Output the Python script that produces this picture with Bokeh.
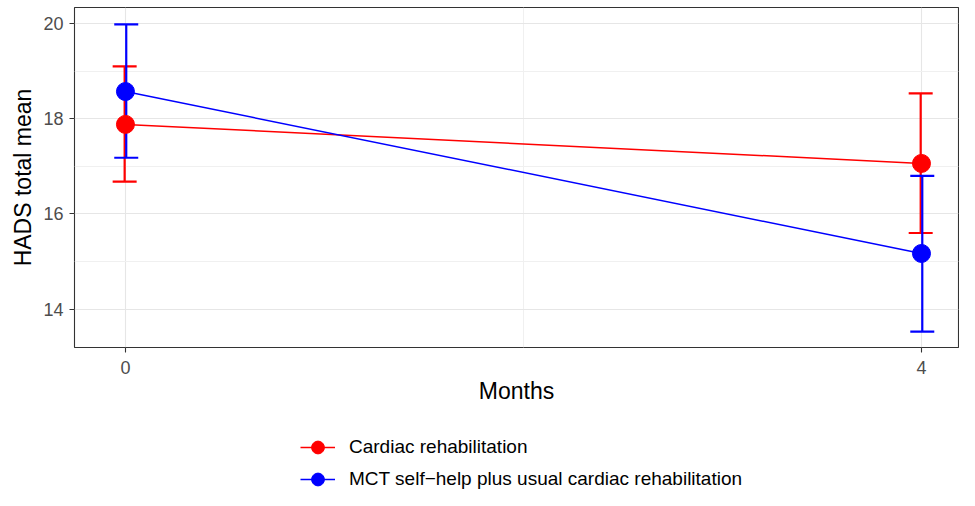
from bokeh.plotting import figure
from bokeh.layouts import column
from bokeh.models import (Range1d, FixedTicker, Whisker, TeeHead, ColumnDataSource,
                          Legend, LegendItem)
from bokeh.transform import dodge
from bokeh.embed import file_html
from bokeh.resources import INLINE

# ---- data ----
months = [0, 4]
month_labels = ["0", "4"]
cr_mean = [17.88, 17.06]
cr_lower = [16.68, 15.60]
cr_upper = [19.10, 18.53]
mct_mean = [18.57, 15.17]
mct_lower = [17.18, 13.53]
mct_upper = [19.98, 16.80]
series_labels = ["Cardiac rehabilitation",
                 "MCT self\u2212help plus usual cardiac rehabilitation"]
series_colors = ["#ff0000", "#0000ff"]
y_ticks = [14, 16, 18, 20]
y_minor = [15, 17, 19]
x_minor = [2]

FONT = "Liberation Sans"
W = 959
H1 = 406
H2 = 84

p = figure(width=W, height=H1, output_backend="svg", toolbar_location=None,
           x_range=Range1d(-0.256, 4.186), y_range=Range1d(13.196, 20.334),
           min_border_left=74, min_border_right=1, min_border_top=7,
           min_border_bottom=H1 - 349)

p.background_fill_color = "white"
p.border_fill_color = "white"
p.outline_line_color = "#333333"
p.outline_line_width = 1.1

# axes
p.xaxis.ticker = FixedTicker(ticks=months, minor_ticks=x_minor)
p.yaxis.ticker = FixedTicker(ticks=y_ticks, minor_ticks=y_minor)
p.xgrid.ticker = FixedTicker(ticks=months, minor_ticks=x_minor)
p.ygrid.ticker = FixedTicker(ticks=y_ticks, minor_ticks=y_minor)
p.xaxis.major_label_overrides = {m: l for m, l in zip(months, month_labels)}

for ax in (p.xaxis, p.yaxis):
    ax.axis_line_color = None
    ax.major_tick_line_color = "#333333"
    ax.major_tick_line_width = 1.1
    ax.major_tick_in = 0
    ax.major_tick_out = 5
    ax.minor_tick_line_color = None
    ax.major_label_text_font = FONT
    ax.major_label_text_font_size = "18px"
    ax.major_label_text_color = "#4d4d4d"
    ax.axis_label_text_font = FONT
    ax.axis_label_text_font_size = "23px"
    ax.axis_label_text_font_style = "normal"
    ax.axis_label_text_color = "black"

p.xaxis.axis_label = "Months"
p.yaxis.axis_label = "HADS total mean"
p.xaxis.major_label_standoff = 8
p.xaxis.axis_label_standoff = 1
p.yaxis.major_label_standoff = 6
p.yaxis.axis_label_standoff = 4

for g in (p.xgrid, p.ygrid):
    g.grid_line_color = "#e6e6e6"
    g.grid_line_width = 1.1
    g.minor_grid_line_color = "#f0f0f0"
    g.minor_grid_line_width = 1

# series
series = [
    (cr_mean, cr_lower, cr_upper, series_colors[0], -0.004),
    (mct_mean, mct_lower, mct_upper, series_colors[1], 0.004),
]
sources = []
for mean, lo, hi, col, off in series:
    sources.append(ColumnDataSource(dict(x=months, y=mean, lo=lo, hi=hi)))

for (mean, lo, hi, col, off), src in zip(series, sources):
    p.line("x", "y", source=src, line_color=col, line_width=1.5)

for (mean, lo, hi, col, off), src in zip(series, sources):
    w = Whisker(source=src, base=dodge("x", off), upper="hi", lower="lo",
                line_color=col, line_width=2.2,
                upper_head=TeeHead(size=24, line_color=col, line_width=2.2),
                lower_head=TeeHead(size=24, line_color=col, line_width=2.2))
    p.add_layout(w)

for (mean, lo, hi, col, off), src in zip(series, sources):
    p.scatter("x", "y", source=src, size=18, fill_color=col, line_color=col)

# ---- legend panel (below the plot) ----
# same data, ranges chosen so that only the legend keys are visible here
p2 = figure(width=W, height=H2, output_backend="svg", toolbar_location=None,
            x_axis_type=None, y_axis_type=None,
            x_range=Range1d(100, 101), y_range=Range1d(100, 101),
            min_border_left=0, min_border_right=0, min_border_top=0,
            min_border_bottom=0)
p2.outline_line_color = None
p2.grid.visible = False
p2.background_fill_color = "white"
p2.border_fill_color = "white"

items = []
for i, ((mean, lo, hi, col, off), src) in enumerate(zip(series, sources)):
    lr = p2.line("x", "y", source=src, line_color=col, line_width=1.5)
    sr = p2.scatter("x", "y", source=src, size=18, fill_color=col, line_color=col)
    items.append(LegendItem(label=series_labels[i], renderers=[lr, sr]))

# the column aligns this frame with the main plot's frame (left edge at 74px)
legend = Legend(
    items=items, location=(226, -5), orientation="vertical",
    glyph_width=35, glyph_height=32, label_height=32, spacing=0,
    padding=0, margin=0, label_standoff=14,
    label_text_font=FONT, label_text_font_size="19px", label_text_color="black",
    border_line_color=None, background_fill_alpha=0,
)
p2.add_layout(legend)

open("out.html", "w").write(file_html(column(p, p2), INLINE))
